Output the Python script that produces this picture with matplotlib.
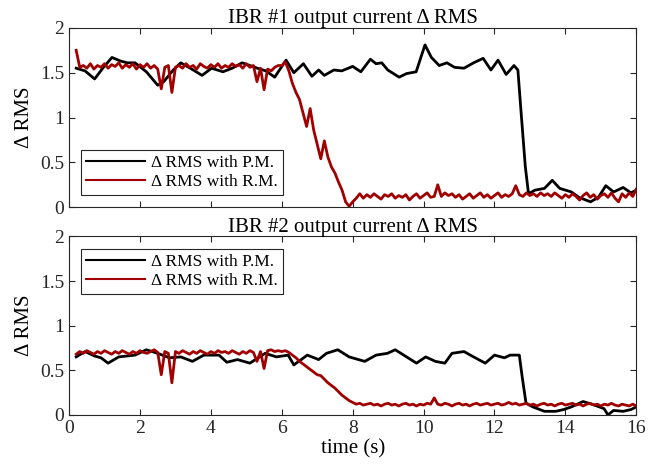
import numpy as np
import matplotlib.pyplot as plt
from matplotlib.lines import Line2D

plt.rcParams['font.family'] = ['Liberation Serif', 'DejaVu Serif']

# IBR #1, P.M. (black)
t1_pm = [0.2, 0.45, 0.72, 0.95, 1.21, 1.45, 1.64, 1.86, 2.18, 2.5, 2.67, 2.94, 3.15, 3.42,
         3.75, 4.02, 4.34, 4.6, 4.88, 5.1, 5.31, 5.55, 5.8, 6.12, 6.34, 6.61, 6.85, 7.04, 7.2,
         7.47, 7.69, 8.0, 8.23, 8.5, 8.66, 8.82, 8.99, 9.31, 9.52, 9.79, 10.04, 10.22, 10.44,
         10.66, 10.87, 11.14, 11.41, 11.68, 11.9, 12.1, 12.33, 12.55, 12.66, 12.76, 12.87,
         12.96, 13.14, 13.41, 13.63, 13.84, 14.17, 14.38, 14.71, 14.93, 15.14, 15.36, 15.63,
         15.85, 16.0]
v1_pm = [1.55, 1.52, 1.43, 1.55, 1.67, 1.63, 1.61, 1.61, 1.51, 1.36, 1.40, 1.53, 1.61, 1.55,
         1.47, 1.55, 1.51, 1.55, 1.61, 1.58, 1.55, 1.52, 1.45, 1.64, 1.50, 1.60, 1.46, 1.53, 1.47,
         1.53, 1.52, 1.57, 1.51, 1.65, 1.60, 1.61, 1.53, 1.45, 1.49, 1.51, 1.81, 1.67, 1.58,
         1.61, 1.56, 1.55, 1.61, 1.66, 1.53, 1.64, 1.48, 1.58, 1.53, 1.01, 0.45,
         0.15, 0.19, 0.21, 0.30, 0.21, 0.17, 0.11, 0.06, 0.11, 0.24, 0.17, 0.22,
         0.16, 0.19]

# IBR #1, R.M. (red), sampled every 0.1 s from 0.2 s
v1_rm = [1.75, 1.56, 1.58, 1.55, 1.60, 1.54, 1.58, 1.56,
         1.60, 1.55, 1.59, 1.57, 1.61, 1.55, 1.59, 1.56, 1.60, 1.54,
         1.59, 1.56, 1.60, 1.55, 1.58, 1.54, 1.32, 1.56, 1.58, 1.28,
         1.56, 1.58, 1.55, 1.60, 1.56, 1.58, 1.54, 1.60, 1.57, 1.55,
         1.59, 1.56, 1.60, 1.55, 1.58, 1.56, 1.60, 1.57, 1.59, 1.55,
         1.60, 1.56, 1.58, 1.40, 1.55, 1.31, 1.54, 1.52, 1.56, 1.58,
         1.58, 1.62, 1.52, 1.38, 1.28, 1.20, 1.05, 0.90, 1.10, 0.86,
         0.70, 0.54, 0.74, 0.56, 0.45, 0.38, 0.28, 0.19, 0.06, 0.01,
         0.06, 0.10, 0.15, 0.10, 0.14, 0.11, 0.15, 0.12, 0.09, 0.14,
         0.12, 0.15, 0.10, 0.13, 0.11, 0.14, 0.08, 0.12, 0.15, 0.10,
         0.13, 0.16, 0.11, 0.12, 0.25, 0.12, 0.16, 0.13, 0.15, 0.11,
         0.14, 0.09, 0.12, 0.15, 0.10, 0.13, 0.16, 0.11, 0.14, 0.10,
         0.13, 0.16, 0.11, 0.14, 0.12, 0.15, 0.24, 0.14, 0.12, 0.16,
         0.13, 0.15, 0.12, 0.16, 0.13, 0.15, 0.12, 0.16, 0.13, 0.10,
         0.14, 0.11, 0.15, 0.12, 0.08, 0.13, 0.16, 0.11, 0.14, 0.09,
         0.13, 0.15, 0.11, 0.16, 0.10, 0.06, 0.15, 0.11, 0.16, 0.12,
         0.20]

# IBR #2, P.M. (black)
t2_pm = [0.2, 0.45, 0.72, 0.9, 1.1, 1.4, 1.86, 2.18, 2.5, 2.83, 3.15, 3.48, 3.8, 4.23, 4.45,
         4.75, 5.1, 5.53, 5.85, 6.18, 6.34, 6.72, 7.04, 7.26, 7.58, 7.9, 8.34, 8.66, 8.98, 9.2,
         9.52, 9.8, 10.06, 10.33, 10.6, 10.8, 11.14, 11.41, 11.74, 12.0, 12.28, 12.44, 12.7,
         12.78, 12.89, 13.08, 13.41, 13.73, 13.95, 14.17, 14.5, 14.82, 15.09, 15.2, 15.36,
         15.63, 15.85, 16.0]
v2_pm = [0.65, 0.71, 0.66, 0.64, 0.58, 0.65, 0.67, 0.73, 0.69, 0.64, 0.65, 0.60, 0.67, 0.67, 0.59,
         0.62, 0.58, 0.69, 0.65, 0.67, 0.56, 0.67, 0.62, 0.69, 0.73, 0.65, 0.60, 0.67, 0.69, 0.73,
         0.65, 0.58, 0.65, 0.60, 0.58, 0.69, 0.71, 0.65, 0.58, 0.67, 0.64, 0.67, 0.67,
         0.43, 0.13, 0.09, 0.04, 0.04, 0.06, 0.09, 0.15, 0.11, 0.07, 0.0, 0.05,
         0.04, 0.06, 0.09]

# IBR #2, R.M. (red), sampled every 0.1 s from 0.2 s
v2_rm = [0.68, 0.71, 0.69, 0.72, 0.70, 0.68, 0.71, 0.69,
         0.72, 0.70, 0.68, 0.71, 0.69, 0.72, 0.70, 0.68, 0.71, 0.69,
         0.72, 0.70, 0.69, 0.71, 0.73, 0.70, 0.45, 0.71, 0.69, 0.36,
         0.71, 0.69, 0.72, 0.70, 0.68, 0.71, 0.69, 0.72, 0.70, 0.68,
         0.71, 0.69, 0.72, 0.70, 0.71, 0.69, 0.72, 0.70, 0.68, 0.71,
         0.69, 0.72, 0.70, 0.60, 0.71, 0.52, 0.72, 0.73, 0.71, 0.72,
         0.71, 0.72, 0.70, 0.67, 0.64, 0.60, 0.57, 0.54, 0.51, 0.48,
         0.45, 0.44, 0.40, 0.36, 0.33, 0.30, 0.26, 0.22, 0.19, 0.16,
         0.14, 0.12, 0.13, 0.11, 0.12, 0.13, 0.11, 0.12, 0.10, 0.12,
         0.13, 0.11, 0.12, 0.10, 0.12, 0.13, 0.11, 0.12, 0.10, 0.12,
         0.11, 0.13, 0.12, 0.19, 0.12, 0.11, 0.13, 0.12, 0.10, 0.12,
         0.13, 0.11, 0.12, 0.10, 0.12, 0.13, 0.11, 0.12, 0.13, 0.11,
         0.12, 0.13, 0.11, 0.12, 0.14, 0.12, 0.13, 0.11, 0.12, 0.13,
         0.11, 0.12, 0.10, 0.12, 0.13, 0.11, 0.12, 0.10, 0.12, 0.13,
         0.11, 0.12, 0.13, 0.11, 0.12, 0.10, 0.12, 0.13, 0.11, 0.12,
         0.10, 0.12, 0.11, 0.13, 0.11, 0.10, 0.12, 0.11, 0.10, 0.12,
         0.10]

t_rm = 0.2 + 0.1 * np.arange(len(v1_rm))
t2_rm = 0.2 + 0.1 * np.arange(len(v2_rm))

titles = ['IBR #1 output current Δ RMS', 'IBR #2 output current Δ RMS']
labels = ['Δ RMS with P.M.', 'Δ RMS with R.M.']
red = '#A00000'

fig = plt.figure(figsize=(6.58, 4.72), dpi=100)
ax1 = fig.add_axes([0.105, 0.561, 0.862, 0.380])
ax2 = fig.add_axes([0.105, 0.121, 0.862, 0.378])

series = [(ax1, t1_pm, v1_pm, t_rm, v1_rm, 'lower left'),
          (ax2, t2_pm, v2_pm, t2_rm, v2_rm, 'upper left')]

for i, (ax, tp, vp, tr, vr, loc) in enumerate(series):
    ax.plot(tp, vp, color='black', lw=2.0, zorder=3)
    ax.plot(tr, vr, color=red, lw=2.0, zorder=4)
    ax.set_xlim(0, 16)
    ax.set_ylim(0, 2)
    ax.set_yticks([0, 0.5, 1, 1.5, 2])
    ax.set_yticklabels(['0', '0.5', '1', '1.5', '2'])
    ax.set_xticks(range(0, 17, 2))
    ax.tick_params(direction='in', top=True, right=True, labelsize=14,
                   length=4, width=0.8, colors='#262626', labelcolor='#262626')
    for sp in ax.spines.values():
        sp.set_color('#262626')
        sp.set_linewidth(0.8)
    ax.set_title(titles[i], fontsize=15, pad=3)
    ax.set_ylabel('Δ RMS', fontsize=15, labelpad=4)
    handles = [Line2D([], [], color='black', lw=1.5), Line2D([], [], color=red, lw=1.5)]
    leg = ax.legend(handles, labels, loc=loc, fontsize=12.5, fancybox=False,
                    edgecolor='#262626', framealpha=1, handlelength=3.4,
                    handletextpad=0.3, borderpad=0.3, labelspacing=0.15,
                    borderaxespad=0.7)
    leg.get_frame().set_linewidth(0.8)

ax1.set_xticklabels([])
ax2.set_xlabel('time (s)', fontsize=15, labelpad=2)

fig.savefig('out.png', dpi=100)
